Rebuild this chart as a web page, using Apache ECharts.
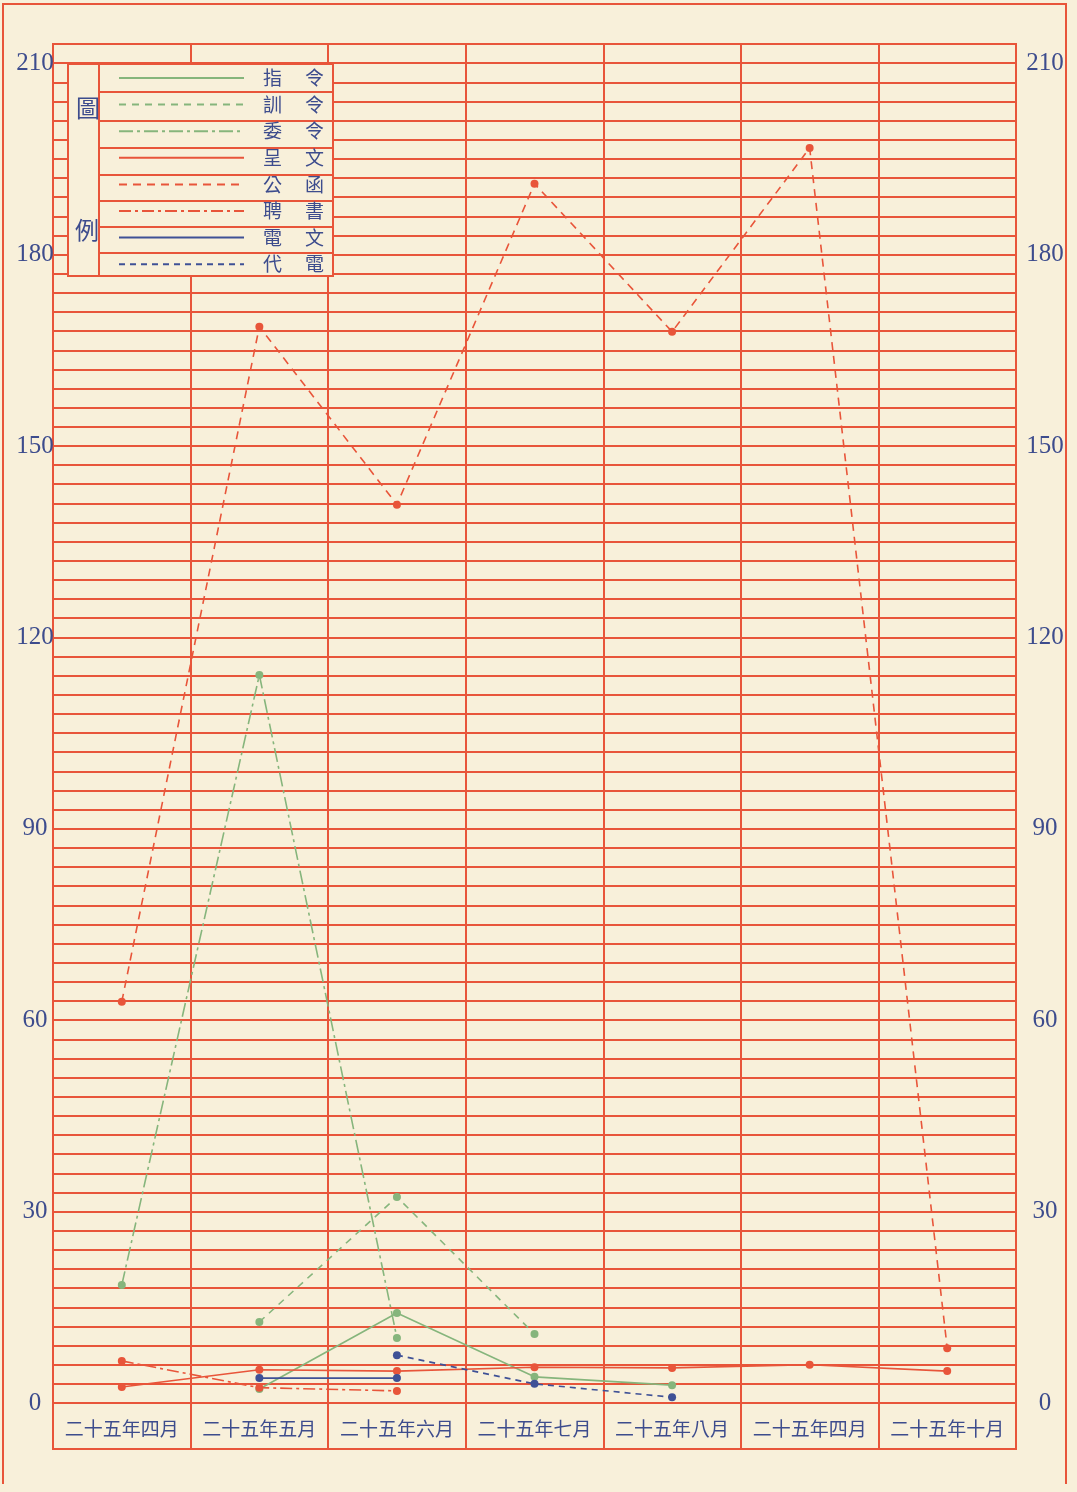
<!DOCTYPE html>
<html>
<head>
<meta charset="utf-8">
<script src="https://cdn.jsdelivr.net/npm/echarts@6/dist/echarts.min.js"></script>
<style>
  html, body { margin: 0; padding: 0; background: #f8f0da; }
  #chart { width: 1077px; height: 1492px; }
</style>
</head>
<body>
<div id="chart"></div>
<script>
// 月份（横轴）
var months = ["二十五年四月", "二十五年五月", "二十五年六月", "二十五年七月", "二十五年八月", "二十五年四月", "二十五年十月"];

// 各類公文件數
var zhiLing = [null, 2.2, 14.1, 4.1, 2.8, null, null];   // 指令
var xunLing = [null, 12.7, 32.3, 10.8, null, null, null]; // 訓令
var weiLing = [18.5, 114.1, 10.2, null, null, null, null]; // 委令
var chengWen = [2.5, 5.2, 5.0, 5.6, 5.5, 6.0, 5.0];      // 呈文
var gongHan = [62.9, 168.7, 140.8, 191.1, 167.9, 196.7, 8.6]; // 公函
var pinShu = [6.6, 2.4, 1.9, null, null, null, null];     // 聘書
var dianWen = [null, 3.9, 3.9, null, null, null, null];   // 電文
var daiDian = [null, null, 7.5, 3.0, 0.9, null, null];    // 代電

var yTicks = [0, 30, 60, 90, 120, 150, 180, 210];

var RED = "#e8553a";
var GREEN = "#86b57c";
var BLUE = "#3f5196";
var INK = "#3d4c8d";
var BG = "#f8f0da";

function makeLine(name, data, color, dash, width) {
  return {
    name: name,
    type: "line",
    data: data,
    symbol: "circle",
    symbolSize: 8,
    itemStyle: { color: color },
    lineStyle: { color: color, width: width || 1.6, type: dash },
    z: 5
  };
}

var myChart = echarts.init(document.getElementById("chart"));

var legendRows = [92, 121, 148, 175, 201, 227, 253];
var graphics = [
  // 外框
  { type: "polyline", shape: { points: [[3, 1484], [3, 4], [1066, 4], [1066, 1484]] },
    style: { stroke: RED, lineWidth: 2, fill: null }, z: 1 },
  // 月份格底線
  { type: "line", shape: { x1: 53, y1: 1449, x2: 1016, y2: 1449 },
    style: { stroke: RED, lineWidth: 2 }, z: 1 },
  // 圖例框
  { type: "rect", shape: { x: 68, y: 64, width: 265, height: 212 },
    style: { fill: BG, stroke: RED, lineWidth: 2 }, z: 10 },
  { type: "line", shape: { x1: 99, y1: 64, x2: 99, y2: 276 },
    style: { stroke: RED, lineWidth: 2 }, z: 11 },
  { type: "text", left: 76, top: 96, style: { text: "圖", fill: INK, font: "24px 'Noto Sans CJK TC'" }, z: 11 },
  { type: "text", left: 75, top: 218, style: { text: "例", fill: INK, font: "24px 'Noto Sans CJK TC'" }, z: 11 }
];
legendRows.forEach(function (y) {
  graphics.push({ type: "line", shape: { x1: 99, y1: y, x2: 333, y2: y },
    style: { stroke: RED, lineWidth: 2 }, z: 11 });
});

var option = {
  backgroundColor: BG,
  animation: false,
  grid: { left: 53, right: 61, top: 44, bottom: 89, show: true, borderColor: RED, borderWidth: 2 },
  legend: {
    orient: "vertical",
    left: 118,
    top: 68,
    padding: 0,
    itemWidth: 125,
    itemHeight: 14,
    itemGap: 6.6,
    z: 20,
    itemStyle: { opacity: 0 },
    formatter: function (n) { return "{a|" + n[0] + "}{b|" + n[1] + "}"; },
    textStyle: {
      color: INK,
      fontFamily: "Noto Sans CJK TC",
      fontSize: 19,
      lineHeight: 20,
      rich: {
        a: { fontSize: 19, color: INK, fontFamily: "Noto Sans CJK TC", width: 42, padding: [0, 0, 0, 14] },
        b: { fontSize: 19, color: INK, fontFamily: "Noto Sans CJK TC" }
      }
    }
  },
  xAxis: {
    type: "category",
    data: months,
    boundaryGap: true,
    axisLine: { lineStyle: { color: RED, width: 2 } },
    axisTick: { show: true, length: 47, lineStyle: { color: RED, width: 2 } },
    axisLabel: { color: INK, fontSize: 19, fontFamily: "Noto Sans CJK TC", margin: 16, interval: 0 },
    splitLine: { show: true, interval: 0, lineStyle: { color: RED, width: 2 } }
  },
  yAxis: [
    {
      type: "value", min: 0, max: 213, interval: 3, position: "left",
      axisLine: { show: false }, axisTick: { show: false },
      splitLine: { show: true, lineStyle: { color: RED, width: 2 } },
      axisLabel: {
        color: INK, fontSize: 25, fontFamily: "Liberation Serif", align: "center", margin: 18,
        formatter: function (v) { return yTicks.indexOf(v) >= 0 ? String(v) : ""; }
      }
    },
    {
      type: "value", min: 0, max: 213, interval: 3, position: "right",
      axisLine: { show: false }, axisTick: { show: false },
      splitLine: { show: false },
      axisLabel: {
        color: INK, fontSize: 25, fontFamily: "Liberation Serif", align: "center", margin: 29,
        formatter: function (v) { return yTicks.indexOf(v) >= 0 ? String(v) : ""; }
      }
    }
  ],
  graphic: graphics,
  series: [
    makeLine("指令", zhiLing, GREEN, "solid"),
    makeLine("訓令", xunLing, GREEN, [7, 6]),
    makeLine("委令", weiLing, GREEN, [14, 4, 3, 4]),
    makeLine("呈文", chengWen, RED, "solid"),
    makeLine("公函", gongHan, RED, [8, 6]),
    makeLine("聘書", pinShu, RED, [12, 4, 3, 4]),
    makeLine("電文", dianWen, BLUE, "solid"),
    makeLine("代電", daiDian, BLUE, [6, 5])
  ]
};

myChart.setOption(option);
</script>
</body>
</html>
